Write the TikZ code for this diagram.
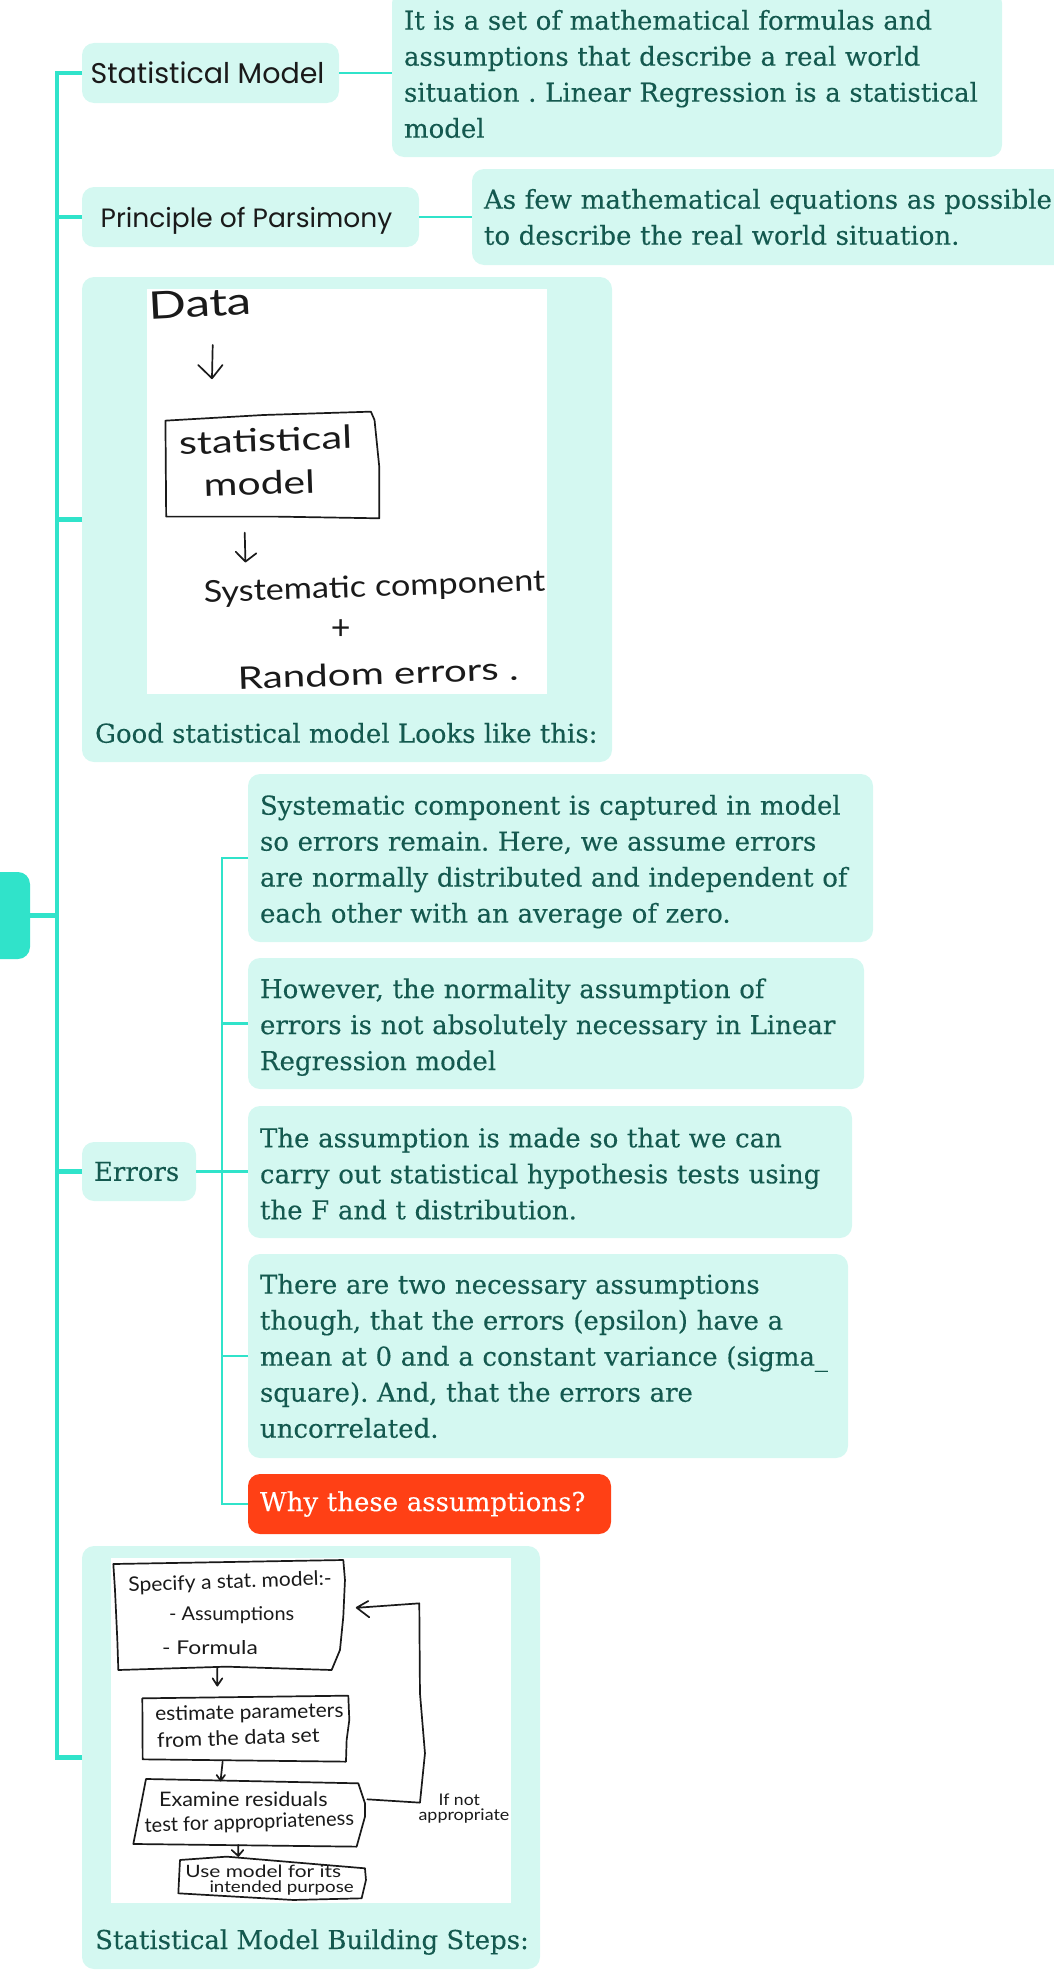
\documentclass[tikz,border=0pt]{standalone}
\usepackage{fontspec}
\frenchspacing
\newfontfamily\slab[FakeBold=0.25]{DejaVu Serif}
\newfontfamily\round{Poppins}
\newfontfamily\hand{Lato}
\definecolor{teal}{HTML}{30E3CA}
\definecolor{pale}{HTML}{D4F8F1}
\definecolor{deep}{HTML}{14594F}
\definecolor{alert}{HTML}{FF4015}
\definecolor{ink}{HTML}{1A1A1A}
\tikzset{
  card/.style={fill=pale,rounded corners=12pt,inner sep=0pt,outer sep=0pt,anchor=north west},
  tcard/.style 2 args={card,minimum width=#1pt,minimum height=#2pt,text width=#1pt-24pt,inner xsep=12pt,align=left,text=deep,font=\slab\fontsize{26}{36}\selectfont},
  nudge/.style={execute at begin node={\rule{0pt}{#1}}},
  rcard/.style n args={3}{card,minimum width=#1pt,minimum height=#2pt,align=center,text=ink,font=\round\fontsize{#3}{30}\selectfont},
  ecard/.style 2 args={card,minimum width=#1pt,minimum height=#2pt},
  thick link/.style={teal,line width=4.5pt},
  thin link/.style={teal,line width=2.5pt},
  sketch/.style={ink,line width=1.7pt,line join=round,line cap=round},
  hw/.style={text=ink,inner sep=0pt,font=\hand\fontsize{#1}{#1}\selectfont},
  wide/.style={xscale=#1,transform shape},
  caption/.style={text=deep,inner sep=0pt,anchor=west,font=\slab\fontsize{26}{30}\selectfont},
}
\begin{document}
\begin{tikzpicture}[x=1pt,y=-1pt]
\useasboundingbox (0,0) rectangle (1053,1975);
% coordinates of the two trunks
\coordinate (tx) at (57,0);
\coordinate (ux) at (222,0);
% nodes
\node[card,fill=teal,minimum width=50pt,minimum height=87pt] (root) at (-20,872) {};
\node[rcard={257}{60}{28.5}] (sm) at (82,43) {\kern-6pt Statistical Model};
\node[rcard={337}{60}{26.5},nudge=27pt] (pp) at (82,187) {\kern-8pt Principle of Parsimony};
\node[tcard={610}{166}] (def) at (392,-9) {It is a set of mathematical formulas and\\assumptions that describe a real world\\situation . Linear Regression is a statistical\\model};
\node[tcard={640}{96}] (few) at (472,169) {As few mathematical equations as possible\\to describe the real world situation.};
\node[ecard={530}{485}] (good) at (82,277) {};
\node[ecard={458}{423}] (steps) at (82,1546) {};
\node[tcard={114}{59}] (err) at (82,1142) {Errors};
\node[tcard={625}{168},nudge=27pt] (ea) at (248,774) {Systematic component is captured in model\\so errors remain. Here, we assume errors\\are normally distributed and independent of\\each other with an average of zero.};
\node[tcard={616}{131},nudge=27pt] (eb) at (248,958) {However, the normality assumption of\\errors is not absolutely necessary in Linear\\Regression model};
\node[tcard={604}{132},nudge=23pt] (ec) at (248,1106) {The assumption is made so that we can\\carry out statistical hypothesis tests using\\the F and t distribution.};
\node[tcard={600}{204}] (ed) at (248,1254) {There are two necessary assumptions\\though, that the errors (epsilon) have a\\mean at 0 and a constant variance (sigma\_\\square). And, that the errors are\\uncorrelated.};
\node[tcard={363}{60},fill=alert,text=white] (ee) at (248,1474) {Why these assumptions?};
% connectors
\draw[thick link,line cap=rect] (sm.west -| tx) -- (steps.west -| tx);
\draw[thick link] (root.east) -- (root.east -| tx);
\foreach \n in {sm,pp,good,err,steps} \draw[thick link] (\n.west) -- (\n.west -| tx);
\draw[thin link] (sm.east) -- (sm.east -| def.west);
\draw[thin link] (pp.east) -- (pp.east -| few.west);
\draw[thin link] (err.east) -- (err.east -| ec.west);
\draw[thin link,line cap=rect] (ea.west -| ux) -- (ee.west -| ux);
\foreach \n in {ea,eb,ed,ee} \draw[thin link] (\n.west) -- (\n.west -| ux);
% captions
\node[caption] (goodcap) at (95,733) {Good statistical model Looks like this:};
\node[caption] (stepscap) at (95,1942) {Statistical Model Building Steps:};
% sketch 1
\fill[white] (147,289) rectangle (547,694);
\begin{scope}[shift={(60,270)},x=0.3636pt,y=-0.3333pt]
\draw[sketch] (290,452) -- (560,435) -- (855,425) -- (865,450) -- (878,590) -- (878,745) -- (600,740) -- (292,740) -- cycle;
\draw[sketch] (420,225) -- (418,325) (380,285) -- (418,325) -- (447,285);
\draw[sketch] (508,788) -- (510,875) (483,845) -- (510,875) -- (540,850);
\node[hw=38,rotate=3,wide=1.3] (s1a) at (385,100) {Data};
\node[hw=32,rotate=2,wide=1.3] (s1b) at (565,510) {statistical};
\node[hw=32,rotate=2,wide=1.28] (s1c) at (548,640) {model};
\node[hw=30,rotate=2,wide=1.14] (s1d) at (865,955) {Systematic component};
\node[hw=34] (s1e) at (772,1080) {+};
\node[hw=31,rotate=2,wide=1.3] (s1f) at (875,1210) {Random errors .};
\end{scope}
% sketch 2
\fill[white] (111,1558) rectangle (511,1903);
\begin{scope}[shift={(60,1540)},x=0.3333pt,y=-0.3333pt]
\draw[sketch] (160,72) -- (850,60) -- (855,120) -- (850,230) -- (840,330) -- (815,390) -- (500,380) -- (175,390) -- (172,300) -- (165,150) -- cycle;
\draw[sketch] (472,385) -- (472,435) (458,415) -- (472,437) -- (487,415);
\draw[sketch] (247,475) -- (865,467) -- (868,540) -- (860,600) -- (858,665) -- (248,658) -- cycle;
\draw[sketch] (488,665) -- (482,720) (470,705) -- (482,722) -- (495,705);
\draw[sketch] (258,717) -- (895,730) -- (915,790) -- (915,830) -- (890,920) -- (220,912) -- (240,810) -- cycle;
\draw[sketch] (922,778) -- (1080,788) -- (1095,640) -- (1080,460) -- (1078,190) -- (895,203) (925,183) -- (890,203) -- (928,232);
\draw[sketch] (535,915) -- (535,945) (515,930) -- (535,948) -- (550,930);
\draw[sketch] (360,960) -- (500,950) -- (915,985) -- (918,1020) -- (905,1075) -- (700,1080) -- (355,1060) -- cycle;
\node[hw=20,rotate=2,wide=1.05] (s2a) at (510,128) {Specify a stat. model:-};
\node[hw=19,wide=1.05] (s2b) at (515,225) {- Assumptions};
\node[hw=19,wide=1.2] (s2c) at (450,322) {- Formula};
\node[hw=20,rotate=1,wide=1.05] (s2d) at (568,520) {estimate parameters};
\node[hw=20,rotate=2,wide=1.08] (s2e) at (535,593) {from the data set};
\node[hw=20,wide=1.08] (s2f) at (550,778) {Examine residuals};
\node[hw=20,rotate=2,wide=1.0] (s2g) at (568,850) {test for appropriateness};
\node[hw=17,wide=1.23] (s2h) at (610,995) {Use model for its};
\node[hw=16,wide=1.17] (s2i) at (665,1045) {intended purpose};
\node[hw=16,wide=1.1] (s2j) at (1198,778) {If not};
\node[hw=16,wide=1.12] (s2k) at (1212,828) {appropriate};
\end{scope}
\end{tikzpicture}
\end{document}
